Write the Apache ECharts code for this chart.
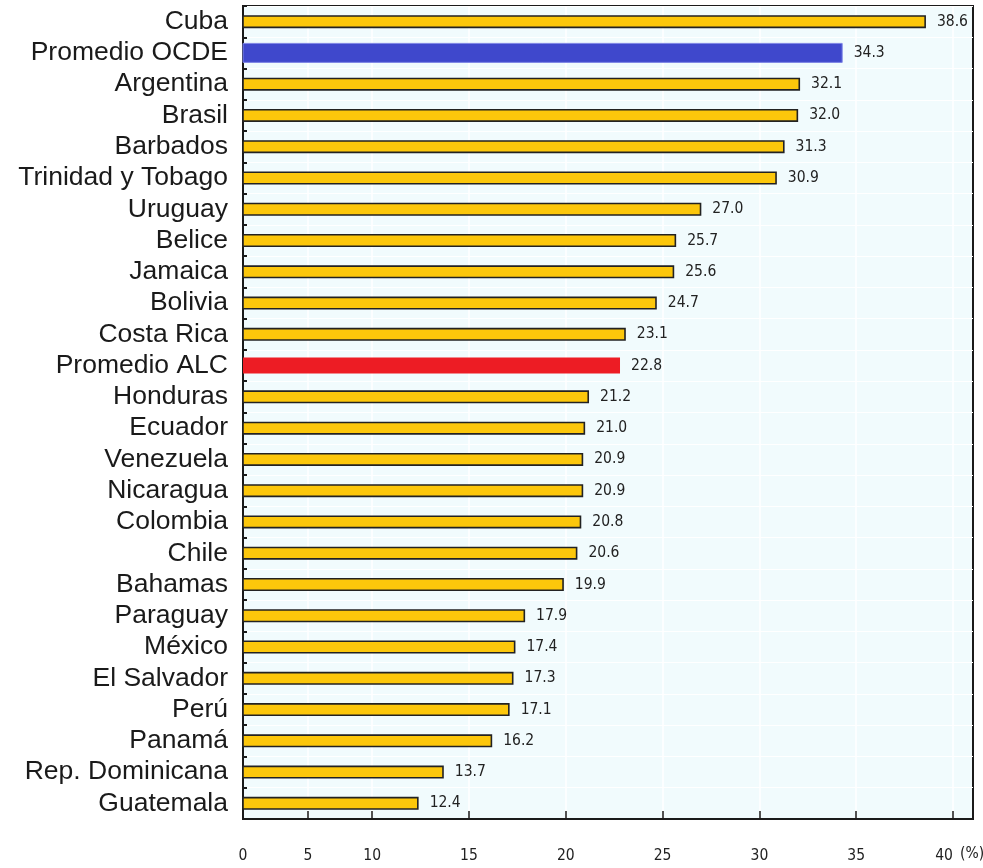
<!DOCTYPE html>
<html>
<head>
<meta charset="utf-8">
<script src="https://cdn.jsdelivr.net/npm/echarts@6/dist/echarts.min.js"></script>
<style>
html,body{margin:0;padding:0;background:#fff;}
#chart{width:983px;height:868px;}
</style>
</head>
<body>
<div id="chart"></div>
<script>
// Data (top to bottom)
const categories = ['Cuba','Promedio OCDE','Argentina','Brasil','Barbados','Trinidad y Tobago','Uruguay','Belice','Jamaica','Bolivia','Costa Rica','Promedio ALC','Honduras','Ecuador','Venezuela','Nicaragua','Colombia','Chile','Bahamas','Paraguay','México','El Salvador','Perú','Panamá','Rep. Dominicana','Guatemala'];
const values = [38.6,34.3,32.1,32.0,31.3,30.9,27.0,25.7,25.6,24.7,23.1,22.8,21.2,21.0,20.9,20.9,20.8,20.6,19.9,17.9,17.4,17.3,17.1,16.2,13.7,12.4];
const oecdName = 'Promedio OCDE';
const lacName = 'Promedio ALC';
// Tick labels of the (broken) value axis and the axis values where they sit
const tickLabels = ['0','5','10','15','20','25','30','35','40'];
const tickPositions = [3.33, 6.68, 10, 15, 20, 25, 30, 35, 40];
const axisMin = 3.33, axisMax = 41.03;

const countryData = values.map((v, i) => (categories[i] === oecdName || categories[i] === lacName) ? '-' : v);
const oecdData = values.map((v, i) => categories[i] === oecdName ? v : '-');
const lacData = values.map((v, i) => categories[i] === lacName ? v : '-');

const chart = echarts.init(document.getElementById('chart'), null, {renderer: 'canvas'});

const narrowFont = '"Liberation Sans Narrow", "Arial Narrow", "DejaVu Sans Condensed", sans-serif';

const valueLabel = {
  show: true,
  position: 'right',
  distance: 11,
  fontFamily: narrowFont,
  fontSize: 15.5,
  color: '#222',
  formatter: p => Number(p.value).toFixed(1)
};

function hiddenCat() {
  return {
    type: 'category', data: categories, inverse: true, show: false,
    gridIndex: 0
  };
}

chart.setOption({
  animation: false,
  backgroundColor: '#ffffff',
  grid: {
    left: 243, right: 10, top: 6, bottom: 49,
    show: true,
    backgroundColor: '#f1fbfd',
    borderColor: '#1a1a1a',
    borderWidth: 2
  },
  xAxis: {
    type: 'value',
    min: axisMin,
    max: axisMax,
    axisLine: {show: true, lineStyle: {color: '#1a1a1a', width: 2}},
    axisTick: {show: true, inside: true, length: 8, customValues: tickPositions, lineStyle: {color: '#1a1a1a', width: 1.5}},
    axisLabel: {
      show: true,
      customValues: tickPositions,
      margin: 29,
      fontFamily: narrowFont,
      fontSize: 15.5,
      color: '#222',
      formatter: v => {
        const idx = tickPositions.findIndex(t => Math.abs(t - v) < 1e-6);
        if (idx < 0) return '';
        return idx === tickLabels.length - 1 ? '{last|' + tickLabels[idx] + '}' : tickLabels[idx];
      },
      rich: {
        last: {
          fontFamily: narrowFont,
          fontSize: 15.5,
          color: '#222',
          padding: [0, 18, 0, 0]
        }
      }
    },
    splitLine: {show: true, lineStyle: {color: '#ffffff', width: 1.5}}
  },
  yAxis: [
    {
      type: 'category',
      data: categories,
      inverse: true,
      axisLine: {show: true, lineStyle: {color: '#1a1a1a', width: 2}},
      axisTick: {show: true, inside: true, length: 4, lineStyle: {color: '#1a1a1a', width: 2}},
      axisLabel: {
        interval: 0,
        margin: 15,
        fontFamily: '"Liberation Sans", Arial, sans-serif',
        fontSize: 26.5,
        color: '#1a1a1a'
      },
      splitLine: {show: true, lineStyle: {color: '#ffffff', width: 1}}
    },
    hiddenCat(),
    hiddenCat()
  ],
  series: [
    {
      name: 'Países',
      type: 'bar',
      yAxisIndex: 0,
      data: countryData,
      barWidth: 13,
      clip: true,
      itemStyle: {color: '#fcc70b', borderColor: '#222222', borderWidth: 1.6},
      label: valueLabel
    },
    {
      name: oecdName,
      type: 'bar',
      yAxisIndex: 1,
      data: oecdData,
      barWidth: 20,
      clip: true,
      itemStyle: {color: '#3f48cc', borderColor: '#7f86e6', borderWidth: 1},
      label: valueLabel
    },
    {
      name: lacName,
      type: 'bar',
      yAxisIndex: 2,
      data: lacData,
      barWidth: 16,
      clip: true,
      itemStyle: {color: '#ed1c24'},
      label: valueLabel
    }
  ],
  graphic: [
    {
      type: 'text',
      left: 960,
      top: 846,
      style: {
        text: '(%)',
        fontFamily: narrowFont,
        fontSize: 15.5,
        fill: '#222'
      }
    }
  ]
});
</script>
</body>
</html>
